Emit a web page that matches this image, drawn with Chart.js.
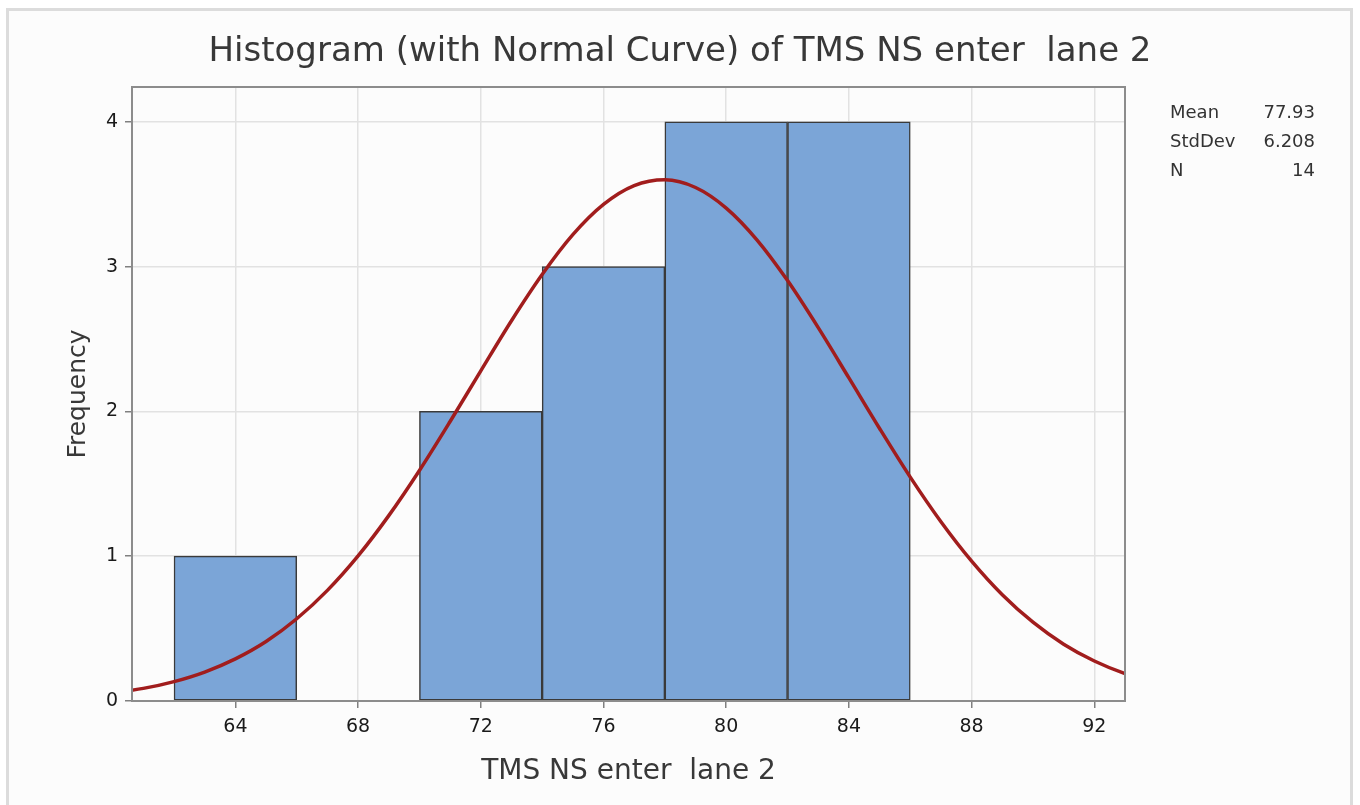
<!DOCTYPE html>
<html>
<head>
<meta charset="utf-8">
<script src="https://cdn.jsdelivr.net/npm/chart.js@4"></script>
<style>
  html, body { margin: 0; padding: 0; background: #ffffff; }
  #wrap { position: relative; width: 1360px; height: 805px; overflow: hidden; }
  #frame { position: absolute; left: 6px; top: 8px; width: 1347px; height: 820px;
           border: 3px solid #dcdcdc; background: #fcfcfc; box-sizing: border-box; }
  #c { position: absolute; left: 0; top: 0; }
</style>
</head>
<body>
<div id="wrap">
  <div id="frame"></div>
  <canvas id="c" width="1360" height="805"></canvas>
</div>
<script>
// ---- data ----
const chartTitle = 'Histogram (with Normal Curve) of TMS NS enter  lane 2';
const xTitle = 'TMS NS enter  lane 2';
const yTitle = 'Frequency';

const binCenters = [64, 68, 72, 76, 80, 84];
const binCounts  = [1, 0, 2, 3, 4, 4];

const xTickValues = [64, 68, 72, 76, 80, 84, 88, 92];
const yTickValues = [0, 1, 2, 3, 4];
const xRange = [60.63, 93.0];
const yRange = [0, 4.24];

const curveX = [60, 61, 62, 63, 64, 65, 66, 67, 68, 69, 70, 71, 72, 73, 74, 75, 76, 77,
                78, 79, 80, 81, 82, 83, 84, 85, 86, 87, 88, 89, 90, 91, 92, 93, 94];
const curveY = [0.056, 0.087, 0.134, 0.200, 0.291, 0.411, 0.568, 0.764, 1.002, 1.280, 1.592,
                1.930, 2.280, 2.626, 2.945, 3.220, 3.429, 3.559, 3.599, 3.546, 3.404, 3.185,
                2.903, 2.578, 2.231, 1.882, 1.546, 1.238, 0.966, 0.734, 0.544, 0.392, 0.276,
                0.189, 0.126];

const statLabels = ['Mean', 'StdDev', 'N'];
const statValues = ['77.93', '6.208', '14'];

// ---- chart ----
const FONT = 'DejaVu Sans';
Chart.defaults.font.family = FONT;

const framePlugin = {
  id: 'frameAndStats',
  afterDatasetsDraw(chart) {
    const { ctx, chartArea: a } = chart;
    ctx.save();
    ctx.strokeStyle = '#8c8c8c';
    ctx.lineWidth = 2;
    ctx.strokeRect(a.left, a.top, a.right - a.left, a.bottom - a.top);
    ctx.restore();
  },
  afterDraw(chart) {
    const { ctx, chartArea: a } = chart;
    ctx.save();
    ctx.font = '18px "' + FONT + '"';
    ctx.fillStyle = '#333333';
    ctx.textBaseline = 'middle';
    const x0 = a.right + 45, x1 = a.right + 190;
    statLabels.forEach((lab, i) => {
      const y = a.top + 26 + i * 29;
      ctx.textAlign = 'left';
      ctx.fillText(lab, x0, y);
      ctx.textAlign = 'right';
      ctx.fillText(statValues[i], x1, y);
    });
    ctx.restore();
  }
};

new Chart(document.getElementById('c'), {
  type: 'bar',
  data: {
    datasets: [
      {
        type: 'line',
        order: 0,
        data: curveX.map((x, i) => ({ x: x, y: curveY[i] })),
        borderColor: '#a11d1d',
        borderWidth: 3.5,
        pointRadius: 0,
        fill: false,
        cubicInterpolationMode: 'monotone',
        xAxisID: 'x',
        yAxisID: 'y'
      },
      {
        type: 'bar',
        order: 1,
        data: binCenters.map((x, i) => ({ x: x, y: binCounts[i] })),
        backgroundColor: '#7ba5d7',
        borderColor: '#3a3a3a',
        borderWidth: 1.5,
        borderSkipped: false,
        barPercentage: 1,
        categoryPercentage: 1,
        xAxisID: 'x',
        yAxisID: 'y'
      }
    ]
  },
  options: {
    responsive: false,
    animation: false,
    events: [],
    layout: { padding: 0 },
    plugins: {
      legend: { display: false },
      tooltip: { enabled: false },
      title: {
        display: true,
        text: chartTitle,
        color: '#383838',
        font: { family: FONT, size: 34, weight: 'normal', lineHeight: 1.2 },
        padding: { top: 32, bottom: 14.2 }
      }
    },
    scales: {
      x: {
        type: 'linear',
        position: 'bottom',
        min: xRange[0],
        max: xRange[1],
        offset: false,
        afterBuildTicks: s => { s.ticks = xTickValues.map(v => ({ value: v })); },
        afterFit: s => { s.height = 104; },
        grid: { offset: false, color: '#e2e2e2', lineWidth: 1.5, drawTicks: true,
                tickLength: 7, tickColor: '#808080', tickWidth: 1.5 },
        border: { display: true, color: '#8c8c8c', width: 2 },
        ticks: { color: '#1a1a1a', font: { size: 19 }, padding: 8, maxRotation: 0,
                 autoSkip: false },
        title: { display: true, text: xTitle, color: '#383838',
                 font: { size: 28, lineHeight: 1.2 }, padding: { top: 0, bottom: 16 } }
      },
      y: {
        type: 'linear',
        position: 'left',
        min: yRange[0],
        max: yRange[1],
        afterBuildTicks: s => { s.ticks = yTickValues.map(v => ({ value: v })); },
        afterFit: s => { s.width = 132; },
        grid: { color: '#e2e2e2', lineWidth: 1.5, drawTicks: true,
                tickLength: 7, tickColor: '#808080', tickWidth: 1.5 },
        border: { display: true, color: '#8c8c8c', width: 2 },
        ticks: { color: '#1a1a1a', font: { size: 19 }, padding: 7 },
        title: { display: true, text: yTitle, color: '#383838',
                 font: { size: 25, lineHeight: 1.2 }, padding: { top: 63, bottom: 0 } }
      },
      yRight: {
        type: 'linear',
        position: 'right',
        display: true,
        afterFit: s => { s.width = 235; },
        grid: { drawOnChartArea: false, drawTicks: false },
        border: { display: false },
        ticks: { display: false }
      }
    }
  },
  plugins: [framePlugin]
});
</script>
</body>
</html>
